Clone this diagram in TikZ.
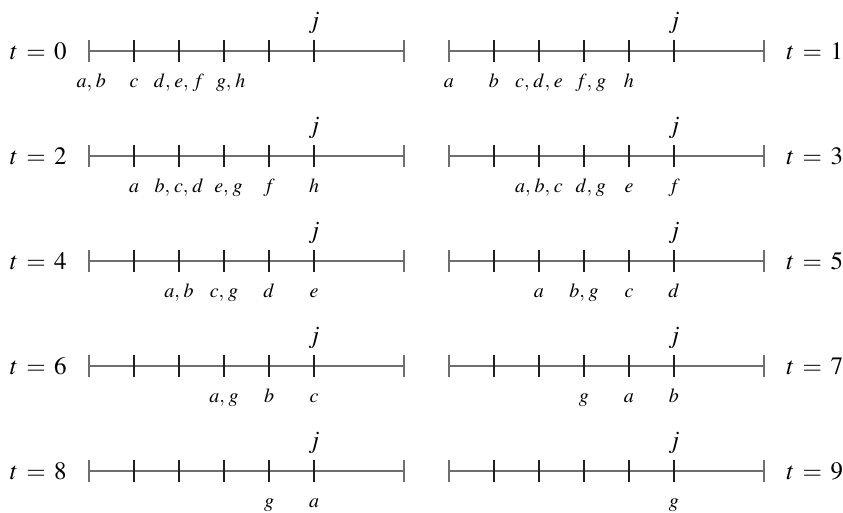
\documentclass[tikz,border=0pt]{standalone}
\usepackage{mathptmx}
\usepackage{tikz}
\usetikzlibrary{positioning}
\definecolor{axisGray}{HTML}{6e6e6e}
\definecolor{tickDark}{HTML}{202020}
\newcommand{\wide}[1]{\thinmuskip=3.5mu\relax #1}

\begin{document}
\begin{tikzpicture}[x=22.5pt, y=22.5pt,
  axis/.style={draw=axisGray, line width=0.8pt},
  tick/.style={draw=tickDark, line width=0.7pt},
  tlbl/.style={inner sep=0pt, font=\fontsize{12.5}{15}\selectfont},
  jlbl/.style={anchor=base, inner sep=0pt, font=\fontsize{12.5}{15}\selectfont},
  lbl/.style={anchor=base, inner sep=0pt, font=\fontsize{10}{12}\selectfont}]
\useasboundingbox (-1.978,1.133) rectangle (16.756,-10.267);
% two time lines per row, left one for even t, right one for odd t
\foreach \r in {0,...,4} {
  \pgfmathsetmacro{\y}{-2.3333*\r}
  \foreach \s/\x in {L/0,R/8} {
    \coordinate (\s\r a) at (\x,\y);
    \coordinate (\s\r b) at (\x+7,\y);
    \draw[axis] (\s\r a) -- (\s\r b);
    \draw[axis] (\x,\y-0.25) -- (\x,\y+0.25);
    \draw[axis] (\x+7,\y-0.25) -- (\x+7,\y+0.25);
    \foreach \i in {1,...,5} \draw[tick] (\x+\i,\y-0.25) -- ++(0,0.5);
    \node[jlbl] (j\s\r) at (\x+5,\y+0.5) {$j$};
  }
  \pgfmathtruncatemacro{\tl}{2*\r}
  \pgfmathtruncatemacro{\tr}{2*\r+1}
  \node[tlbl, left=11pt of L\r a] (tL\r) {$t\,=\,\tl$};
  \node[tlbl, right=11pt of R\r b] (tR\r) {$t\,=\,\tr$};
}
% positions of a..h under the ticks
\foreach \r/\x/\txt [count=\k] in {0/0.05/{a,b}, 0/1/c, 0/2/{d,e,f}, 0/3.15/{g,h}, 0/8/a, 0/9/b, 0/10/{c,d,e}, 0/11.15/{f,g}, 0/12/h,
    1/1/a, 1/2/{b,c,d}, 1/3.1/{e,g}, 1/4/f, 1/5/h, 1/10/{a,b,c}, 1/11.15/{d,g}, 1/12/e, 1/13/f,
    2/2/{a,b}, 2/3/{c,g}, 2/4/d, 2/5/e, 2/10/a, 2/11/{b,g}, 2/12/c, 2/13/d,
    3/3/{a,g}, 3/4/b, 3/5/c, 3/11/g, 3/12/a, 3/13/b,
    4/4/g, 4/5/a, 4/13/g}
  \node[lbl] (pos\k) at (\x,-2.3333*\r-0.82) {$\wide{\txt}$};
\end{tikzpicture}
\end{document}
